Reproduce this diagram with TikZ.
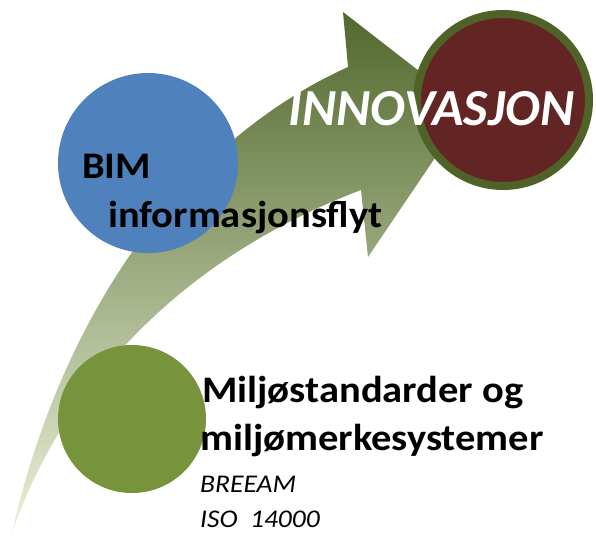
\documentclass[tikz,border=0pt]{standalone}
\usepackage{fontspec}
\setmainfont{Carlito}
\newfontfamily\widefont[FakeStretch=1.08]{Carlito}
\usepackage{xcolor}
\definecolor{bimblue}{RGB}{79,129,189}
\definecolor{envgreen}{RGB}{119,147,60}
\definecolor{innovred}{RGB}{99,37,35}
\definecolor{innovring}{RGB}{79,98,40}
\definecolor{flowtop}{RGB}{82,104,45}
\definecolor{flowmid}{RGB}{186,206,138}
\definecolor{flowbot}{RGB}{234,241,216}

\begin{document}
\begin{tikzpicture}[
			     x=1pt, y=-1pt,
			     bubble/.style={circle, inner sep=0pt},
			     headline/.style={anchor=base west, inner sep=0pt, font=\widefont\fontsize{37.5}{45}\selectfont\bfseries},
			     subline/.style={anchor=base west, inner sep=0pt, font=\widefont\fontsize{25.5}{30}\selectfont\itshape}
			     ]
\useasboundingbox (0,0) rectangle (596,535);
\fill[white] (0,0) rectangle (596,535);
% curved arrow
\path[top color=flowtop, middle color=flowmid, bottom color=flowbot]
  (12,533) .. controls (55,340) and (165,150) .. (348,67)
  -- (343,12) -- (468,109) -- (368,257) -- (361,190)
  .. controls (150,270) and (50,420) .. (12,533) -- cycle;
\node[bubble, fill=bimblue, minimum size=180pt] (bim) at (148,163) {};
\node[bubble, fill=innovred, draw=innovring, line width=8pt, minimum size=172pt] (innov) at (503,100) {};
\node[bubble, fill=envgreen, minimum size=148pt] (env) at (132,419) {};
\node[headline] (bimtext) at (82,178) {BIM};
\node[headline] (flowtext) at (108,227) {informasjonsflyt};
\node[anchor=base west, inner sep=0pt, text=white, font=\fontsize{52}{60}\selectfont\bfseries\itshape] (innovtext) at (288,125) {INNOVASJON};
\node[headline] (envtext) at (202,402) {Miljøstandarder og};
\node[headline] (envtextb) at (200,450) {miljømerkesystemer};
\node[subline] (breeam) at (200,492) {BREEAM};
\node[subline] (iso) at (200,527) {ISO\ \ 14000};
\end{tikzpicture}
\end{document}
